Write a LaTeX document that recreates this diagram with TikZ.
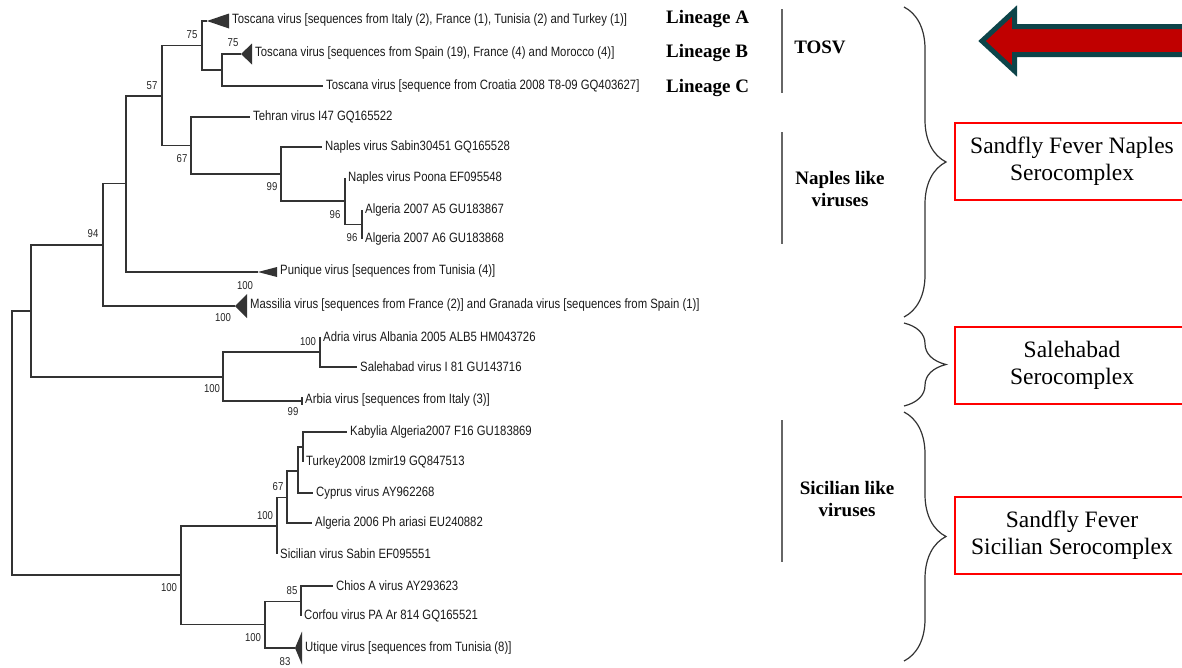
\documentclass[tikz,border=0pt]{standalone}
\usepackage{fontspec}
\setmainfont{Liberation Serif}
\newfontfamily\treefont[FakeStretch=0.84]{Liberation Sans}
\usetikzlibrary{decorations.pathreplacing}
\definecolor{arrowred}{HTML}{C00000}
\definecolor{arrowedge}{HTML}{0D4449}
\definecolor{treegray}{HTML}{333333}

\begin{document}
\begin{tikzpicture}[x=1pt, y=-1pt,
    branch/.style={draw=treegray, line width=1.2pt},
    tip/.style={anchor=west, inner sep=3pt, font=\treefont\fontsize{13.5}{15}\selectfont, text=black!90},
    boot/.style={inner sep=0pt, font=\treefont\fontsize{11.4}{13}\selectfont, text=black!85},
    lineage/.style={anchor=base west, inner sep=0pt, font=\bfseries\fontsize{19}{22}\selectfont},
    group/.style={align=center, inner sep=0pt, font=\bfseries\fontsize{19}{22}\selectfont},
    bar/.style={draw=black!60, line width=1.3pt},
    curly/.style={draw=treegray, line width=1.2pt, decorate, decoration={brace, amplitude=42pt}},
    serobox/.style={draw=red, line width=2pt, minimum width=234pt, minimum height=77pt, align=center, inner sep=0pt, font=\fontsize{23.5}{27}\selectfont}]
    \useasboundingbox (0,0) rectangle (1182,667);
    \clip (0,0) rectangle (1182,667);

    % Internal nodes of the tree
    \coordinate (r0) at (12,443.5);
    \coordinate (nA) at (31,311); \coordinate (nS) at (181,575);
    \coordinate (n94) at (103,245); \coordinate (nSal) at (223,377);
    \coordinate (nX) at (126,183.5); \coordinate (n57) at (162,96);
    \coordinate (nT) at (202,45.5); \coordinate (nBC) at (222,70);
    \coordinate (n67) at (191,145.5); \coordinate (n99) at (281,174);
    \coordinate (n96) at (345,201); \coordinate (nAlg) at (362,224.5);
    \coordinate (nAS) at (320,352);
    \coordinate (nSic) at (277,526); \coordinate (nS67) at (287,497.5);
    \coordinate (nS3) at (298,471); \coordinate (nS2) at (303,447);
    \coordinate (nC) at (265,624.5); \coordinate (n85) at (301,601.5);

    % Collapsed clades
    \coordinate (tToscA) at (207,21); \coordinate (tToscB) at (241,54);
    \coordinate (tPun) at (258,272); \coordinate (tMas) at (235,306);
    \coordinate (tUti) at (295,648); \coordinate (tArb) at (302,401);
    \fill[treegray] (tToscA) -- ++(22,-7.5) -- ++(0,15) -- cycle;
    \fill[treegray] (tToscB) -- ++(11,-10.5) -- ++(0,21) -- cycle;
    \fill[treegray] (tPun) -- ++(19,-5) -- ++(0,10) -- cycle;
    \fill[treegray] (tMas) -- ++(12,-12) -- ++(0,24) -- cycle;
    \fill[treegray] (tUti) -- ++(7,-16.5) -- ++(0,33) -- cycle;
    \draw[branch] (tArb) ++(0,-4) -- ++(0,8);

    % Taxa
    \node[tip] (lToscA) at (229,20) {Toscana virus [sequences from Italy (2), France (1), Tunisia (2) and Turkey (1)]};
    \node[tip] (lToscB) at (252,53) {Toscana virus [sequences from Spain (19), France (4) and Morocco (4)]};
    \node[tip] (lToscC) at (323,86) {Toscana virus [sequence from Croatia 2008 T8-09 GQ403627]};
    \node[tip] (lTeh) at (250,117) {Tehran virus I47 GQ165522};
    \node[tip] (lNapS) at (322,147) {Naples virus Sabin30451 GQ165528};
    \node[tip] (lNapP) at (345,178) {Naples virus Poona EF095548};
    \node[tip] (lAlg5) at (362,210) {Algeria 2007 A5 GU183867};
    \node[tip] (lAlg6) at (362,239) {Algeria 2007 A6 GU183868};
    \node[tip] (lPun) at (277,271) {Punique virus [sequences from Tunisia (4)]};
    \node[tip] (lMas) at (247,305) {Massilia virus [sequences from France (2)] and Granada virus [sequences from Spain (1)]};
    \node[tip] (lAdr) at (320,337) {Adria virus Albania 2005 ALB5 HM043726};
    \node[tip] (lSal) at (357,367) {Salehabad virus I 81 GU143716};
    \node[tip] (lArb) at (302,400) {Arbia virus [sequences from Italy (3)]};
    \node[tip] (lKab) at (347,432) {Kabylia Algeria2007 F16 GU183869};
    \node[tip] (lTur) at (303,462) {Turkey2008 Izmir19 GQ847513};
    \node[tip] (lCyp) at (313,493) {Cyprus virus AY962268};
    \node[tip] (lAlg06) at (312,523) {Algeria 2006 Ph ariasi EU240882};
    \node[tip] (lSicS) at (277,554) {Sicilian virus Sabin EF095551};
    \node[tip] (lChi) at (333,586) {Chios A virus AY293623};
    \node[tip] (lCor) at (301,616) {Corfou virus PA Ar 814 GQ165521};
    \node[tip] (lUti) at (302,648) {Utique virus [sequences from Tunisia (8)]};

    % Branches
    \draw[branch] (r0) |- (nA) (r0) |- (nS);
    \draw[branch] (nA) |- (n94) (nA) |- (nSal);
    \draw[branch] (n94) |- (nX) (n94) |- (tMas);
    \draw[branch] (nX) |- (n57) (nX) |- (tPun);
    \draw[branch] (n57) |- (nT) (n57) |- (n67);
    \draw[branch] (nT) |- (tToscA) (nT) |- (nBC);
    \draw[branch] (nBC) |- (tToscB) (nBC) |- (lToscC.west);
    \draw[branch] (n67) |- (lTeh.west) (n67) |- (n99);
    \draw[branch] (n99) |- (lNapS.west) (n99) |- (n96);
    \draw[branch] (n96) |- (lNapP.west) (n96) |- (nAlg);
    \draw[branch] (nAlg) |- (lAlg5.west) (nAlg) |- (lAlg6.west);
    \draw[branch] (nSal) |- (nAS) (nSal) |- (tArb);
    \draw[branch] (nAS) |- (lAdr.west) (nAS) |- (lSal.west);
    \draw[branch] (nS) |- (nSic) (nS) |- (nC);
    \draw[branch] (nSic) |- (nS67) (nSic) |- (lSicS.west);
    \draw[branch] (nS67) |- (nS3) (nS67) |- (lAlg06.west);
    \draw[branch] (nS3) |- (nS2) (nS3) |- (lCyp.west);
    \draw[branch] (nS2) |- (lKab.west) (nS2) |- (lTur.west);
    \draw[branch] (nC) |- (n85) (nC) |- (tUti);
    \draw[branch] (n85) |- (lChi.west) (n85) |- (lCor.west);

    % Bootstrap values
    \node[boot] (bToscA) at (192,35) {75};
    \node[boot] (bToscB) at (233,43) {75};
    \node[boot] (b57) at (152,86) {57};
    \node[boot] (b67) at (182,159) {67};
    \node[boot] (b99) at (272,187) {99};
    \node[boot] (b96a) at (335,215) {96};
    \node[boot] (b96b) at (352,238) {96};
    \node[boot] (b94) at (93,234) {94};
    \node[boot] (bPun) at (245,286) {100};
    \node[boot] (bMas) at (223,318) {100};
    \node[boot] (bAdr) at (308,342) {100};
    \node[boot] (bSal) at (212,389) {100};
    \node[boot] (bArb) at (293,412) {99};
    \node[boot] (bS67) at (278,487) {67};
    \node[boot] (bSic) at (265,516) {100};
    \node[boot] (bS) at (169,588) {100};
    \node[boot] (b85) at (292,591) {85};
    \node[boot] (bC) at (253,638) {100};
    \node[boot] (bUti) at (285,662) {83};

    % Lineages and groups
    \node[lineage] (linA) at (666,23) {Lineage A};
    \node[lineage] (linB) at (666,57) {Lineage B};
    \node[lineage] (linC) at (666,92) {Lineage C};
    \coordinate (barT1) at (782,9); \coordinate (barT2) at (782,93);
    \coordinate (barN1) at (782,132); \coordinate (barN2) at (782,244);
    \coordinate (barS1) at (782,420); \coordinate (barS2) at (782,562);
    \draw[bar] (barT1) -- (barT2);
    \draw[bar] (barN1) -- (barN2);
    \draw[bar] (barS1) -- (barS2);
    \node[group, anchor=base] (gTOSV) at (820,53) {TOSV};
    \node[group] (gNap) at (840,189) {Naples like\\viruses};
    \node[group] (gSic) at (847,499) {Sicilian like\\viruses};

    % Serocomplex braces
    \coordinate (br1a) at (904,7); \coordinate (br1b) at (904,317);
    \coordinate (br2a) at (904,323); \coordinate (br2b) at (904,406);
    \coordinate (br3a) at (904,412); \coordinate (br3b) at (904,661);
    \draw[curly] (br1a) -- (br1b);
    \draw[curly] (br2a) -- (br2b);
    \draw[curly] (br3a) -- (br3b);

    \node[serobox] (sNap) at (1072,161.5) {Sandfly Fever Naples\\Serocomplex};
    \node[serobox] (sSal) at (1072,365) {Salehabad\\Serocomplex};
    \node[serobox] (sSic) at (1072,535.5) {Sandfly Fever\\Sicilian Serocomplex};

    % Arrow
    \filldraw[fill=arrowred, draw=arrowedge, line width=5pt] (982,41) -- (1014.5,11) -- (1014.5,26.5) -- (1200,26.5)
        -- (1200,54.5) -- (1014.5,54.5) -- (1014.5,71) -- cycle;
\end{tikzpicture}
\end{document}
